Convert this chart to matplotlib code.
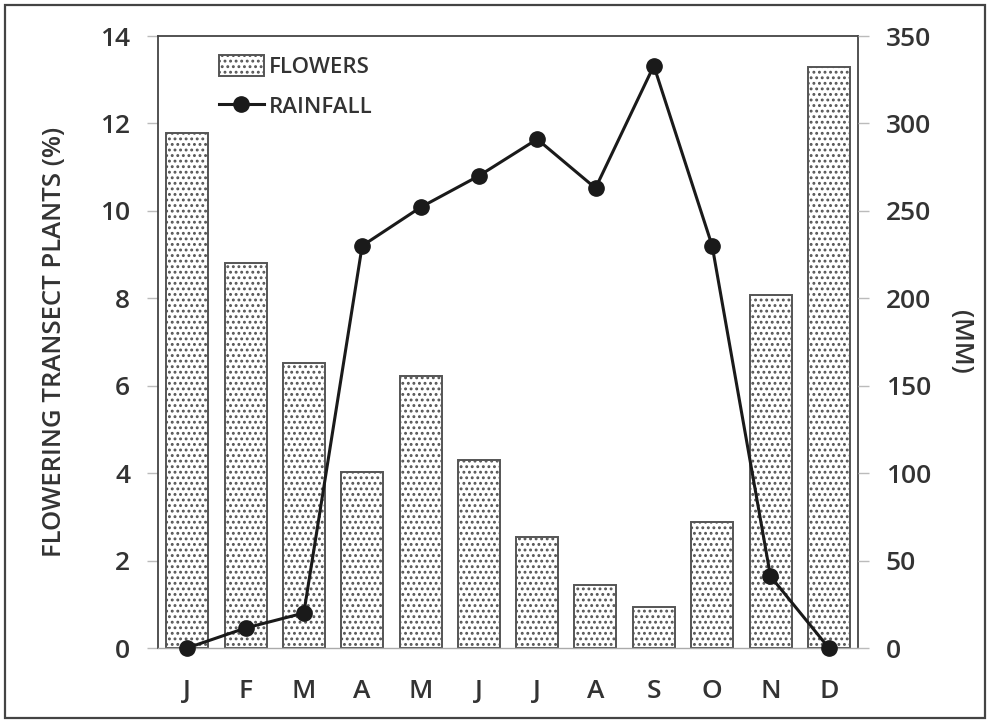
import matplotlib
matplotlib.use("Agg")
import matplotlib.pyplot as plt
from matplotlib.patches import Rectangle
import numpy as np

months = ["J", "F", "M", "A", "M", "J", "J", "A", "S", "O", "N", "D"]
flowers = [11.78, 8.81, 6.52, 4.03, 6.22, 4.30, 2.54, 1.44, 0.94, 2.88, 8.08, 13.3]
rainfall = [0, 11.4, 20, 230, 252, 270, 291, 263, 333, 230, 41, 0]
left_ticks = [0, 2, 4, 6, 8, 10, 12, 14]
right_ticks = [0, 50, 100, 150, 200, 250, 300, 350]

plt.rcParams['font.family'] = ['Open Sans', 'DejaVu Sans']
plt.rcParams['font.weight'] = 'semibold'
plt.rcParams['axes.labelweight'] = 'semibold'
plt.rcParams['hatch.color'] = '#555555'
plt.rcParams['hatch.linewidth'] = 1.3

W, H = 990, 723
fig = plt.figure(figsize=(W / 100, H / 100), dpi=100)
fig.patches.append(Rectangle((5 / W, 5 / H), 980 / W, 713 / H, transform=fig.transFigure,
                             fill=False, edgecolor='#444444', linewidth=1.6))

ax = fig.add_axes([158 / W, (H - 648) / H, 700 / W, 612 / H])
x = np.arange(len(months))
ax.bar(x, flowers, width=0.72, color='white', edgecolor='#555555', linewidth=1.4,
       hatch='...', label='FLOWERS', zorder=2)
ax.set_xlim(-0.5, 11.5)
ax.set_ylim(0, 14)
ax.set_yticks(left_ticks)
ax.set_xticks(x)
ax.set_xticklabels(months)
ax.tick_params(axis='y', direction='out', length=8, width=1, color='#bbbbbb',
               labelsize=19, labelcolor='#333333', pad=12)
ax.tick_params(axis='x', length=0, labelsize=19, labelcolor='#333333', pad=22)
ax.set_ylabel('FLOWERING TRANSECT PLANTS (%)', fontsize=18.5, color='#333333', labelpad=24)
for s in ['left', 'right', 'top']:
    ax.spines[s].set_color('#444444')
    ax.spines[s].set_linewidth(1.3)
ax.spines['bottom'].set_color('#aaaaaa')
ax.spines['bottom'].set_linewidth(1.0)

ax2 = ax.twinx()
ax2.plot(x, rainfall, color='#1a1a1a', linewidth=2.2, marker='o', markersize=11,
         label='RAINFALL', zorder=3, clip_on=False)
ax2.set_ylim(0, 350)
ax2.set_yticks(right_ticks)
ax2.tick_params(axis='y', direction='out', length=8, width=1, color='#bbbbbb',
                labelsize=19, labelcolor='#333333', pad=12)
ax2.set_ylabel('(MM)', fontsize=18.5, color='#333333', rotation=270, labelpad=30)
for s in ax2.spines.values():
    s.set_visible(False)

h1, l1 = ax.get_legend_handles_labels()
h2, l2 = ax2.get_legend_handles_labels()
leg = ax2.legend(h1 + h2, l1 + l2, loc='upper left', bbox_to_anchor=(0.065, 0.995),
                 frameon=False, fontsize=16, handlelength=2.0, handleheight=1.1,
                 handletextpad=0.25, labelspacing=0.75, borderaxespad=0.3)
for t in leg.get_texts():
    t.set_color('#333333')

fig.savefig('out.png', dpi=100)
